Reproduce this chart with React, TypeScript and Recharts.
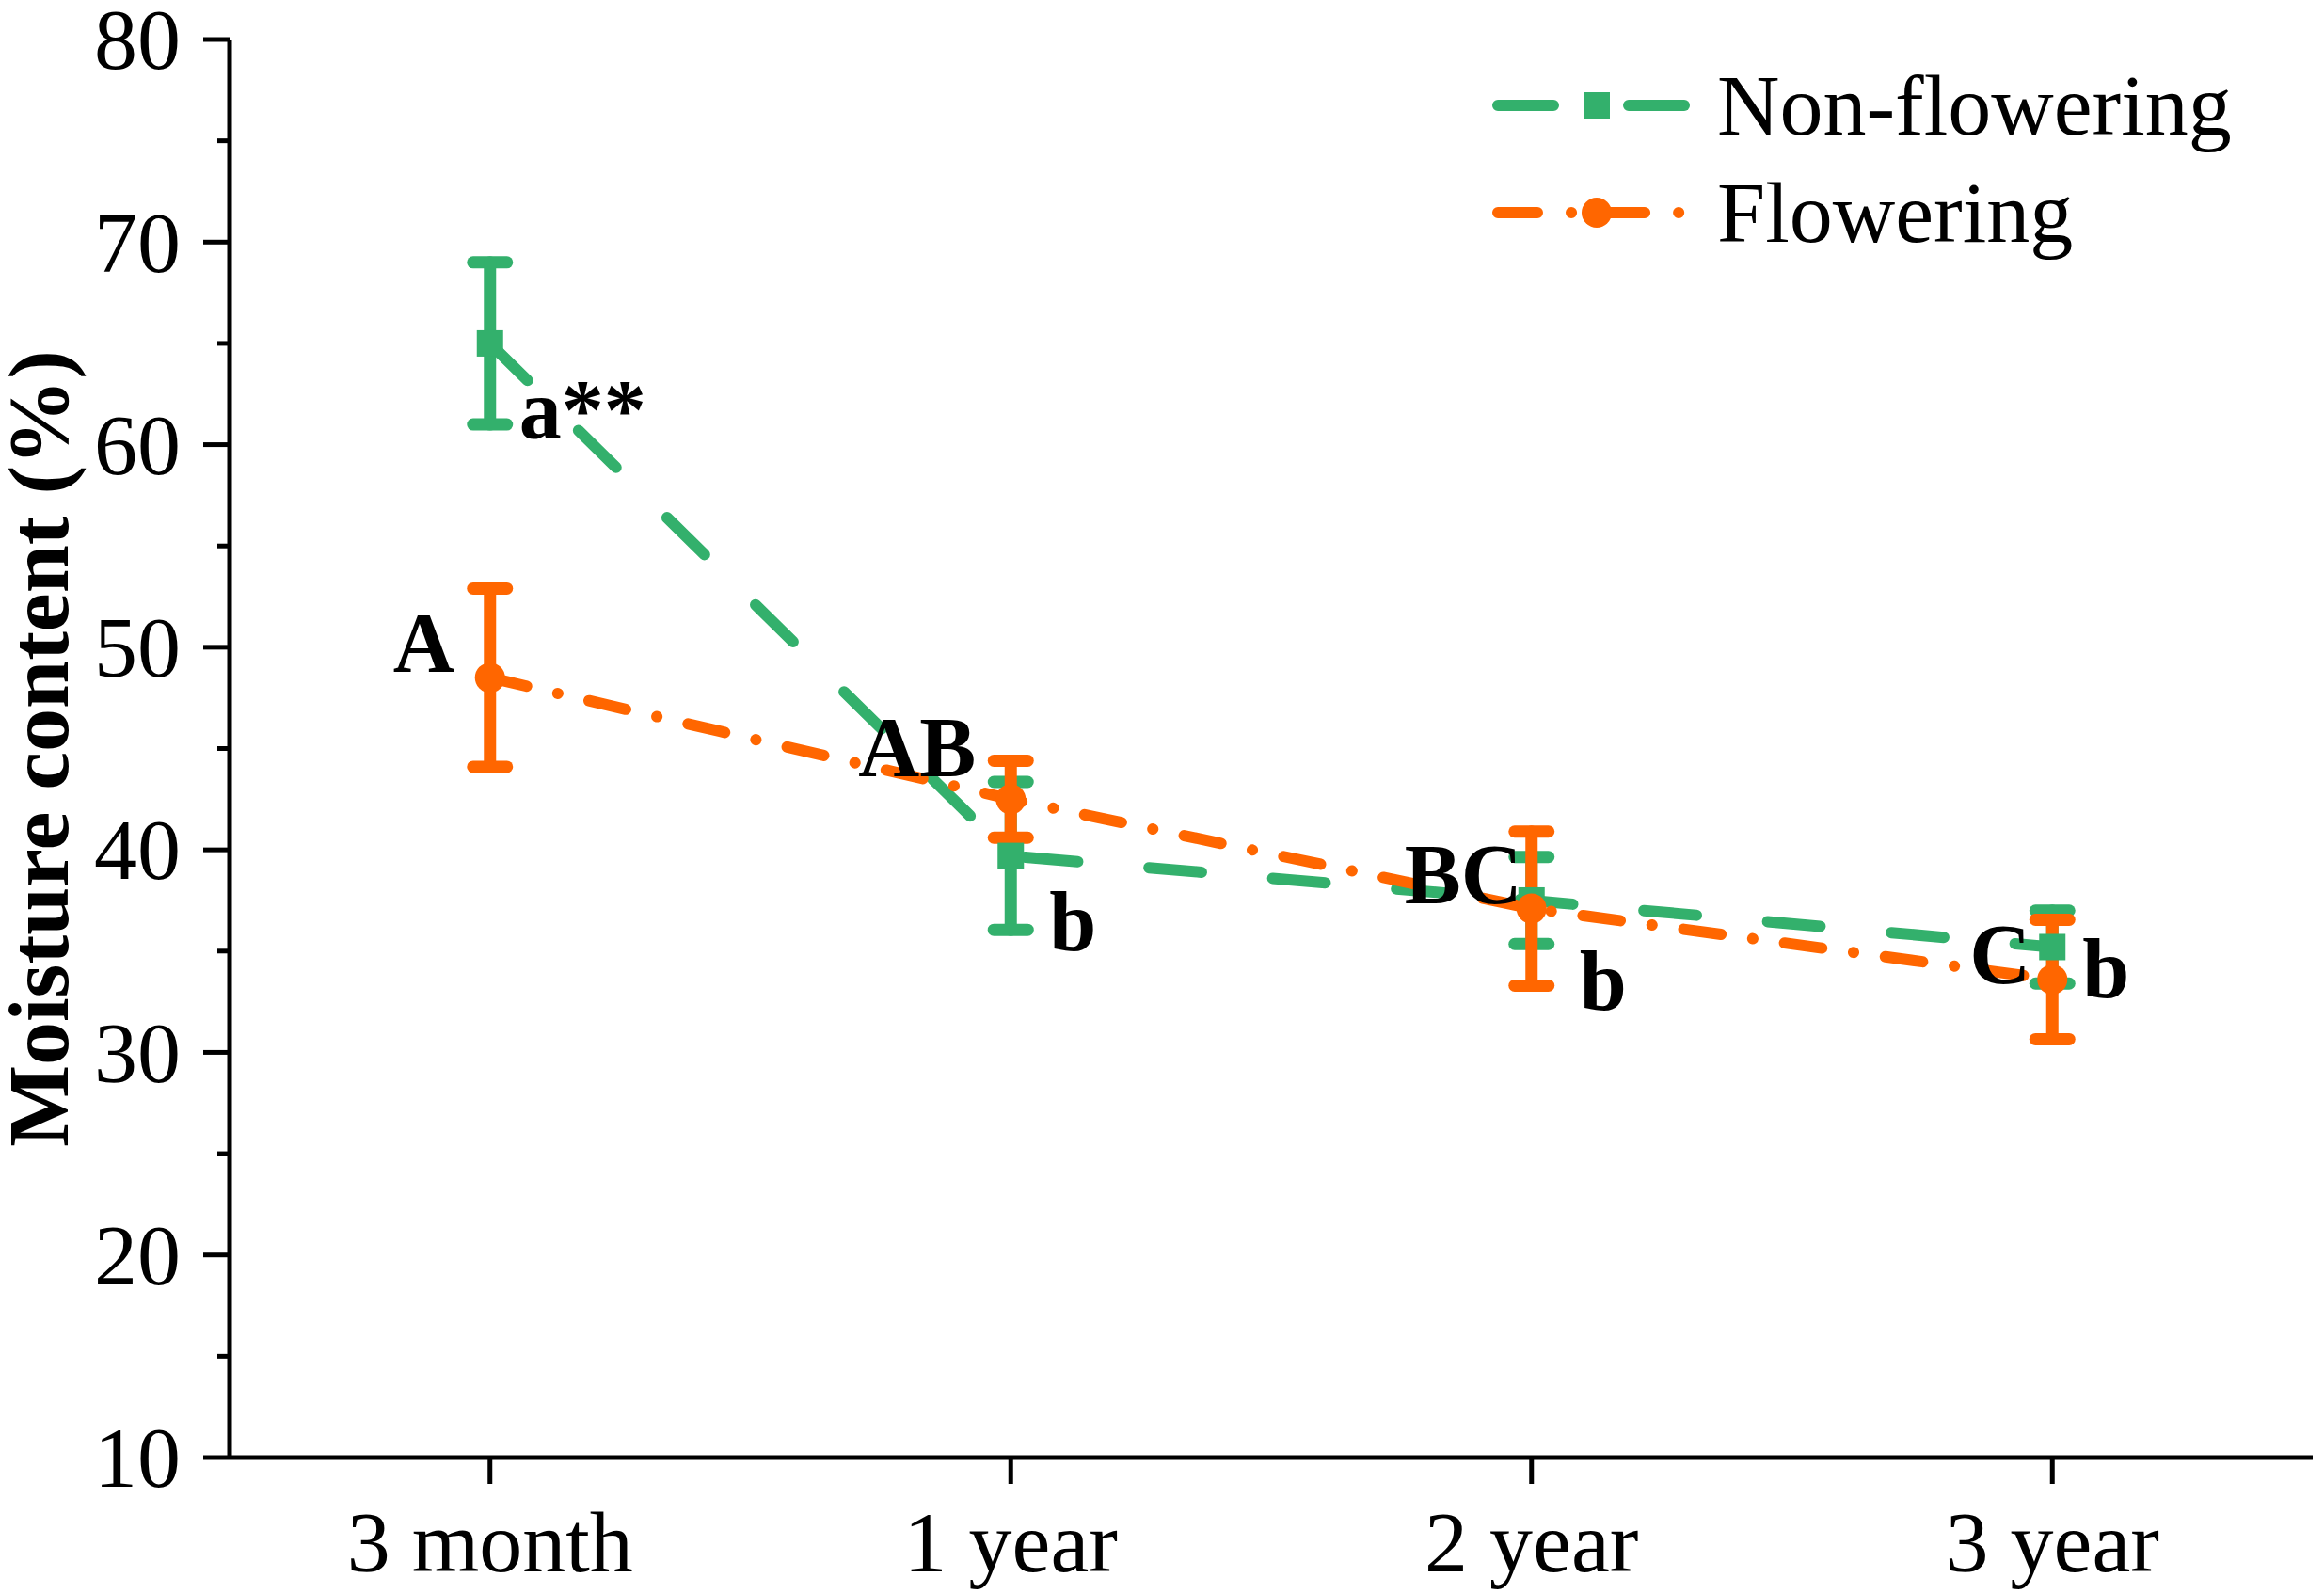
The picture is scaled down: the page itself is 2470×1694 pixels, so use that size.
import React from "react";
import {
  LineChart,
  Line,
  XAxis,
  YAxis,
  ErrorBar,
  LabelList,
  Legend,
} from "recharts";

const FONT = '"Liberation Serif", "Times New Roman", Times, serif';
const GREEN = "#33B06C";
const ORANGE = "#FF6600";

const categories = ["3 month", "1 year", "2 year", "3 year"];
const nonFlowering = [65.0, 39.7, 37.5, 35.2];
const nonFloweringErr = [4.0, 3.65, 2.15, 1.8];
const flowering = [48.5, 42.5, 37.1, 33.6];
const floweringErr = [4.4, 1.9, 3.8, 2.95];
const nonFloweringLetters = ["a**", "b", "b", "b"];
const floweringLetters = ["A", "AB", "BC", "C"];
const yTicks = [10, 15, 20, 25, 30, 35, 40, 45, 50, 55, 60, 65, 70, 75, 80];
const legendOrder = ["nf", "f"];

const data = categories.map((cat, i) => ({
  cat,
  nf: nonFlowering[i],
  nfErr: nonFloweringErr[i],
  nfLetter: nonFloweringLetters[i],
  f: flowering[i],
  fErr: floweringErr[i],
  fLetter: floweringLetters[i],
}));

// where the significance letters sit relative to each point
const nfLabelOffset = [
  { dx: 31, dy: 101 },
  { dx: 41, dy: 100 },
  { dx: 51, dy: 116 },
  { dx: 32, dy: 54 },
];
const fLabelOffset = [
  { dx: -38, dy: -6 },
  { dx: -37, dy: -24 },
  { dx: -10, dy: -6 },
  { dx: -23, dy: 4 },
];

const GREEN_DASH = "56 76";
const ORANGE_DASH = "40 34 0.1 34";

const YTick = (props: any) => {
  const { x, y, payload } = props;
  const major = payload.value % 10 === 0;
  const len = major ? 28 : 13;
  return (
    <g>
      <line x1={x - len} y1={y} x2={x} y2={y} stroke="#000" strokeWidth={5} />
      {major && (
        <text
          x={x - 52}
          y={y}
          dy="0.34em"
          textAnchor="end"
          fontSize={92}
          fontFamily={FONT}
          fill="#000"
        >
          {payload.value}
        </text>
      )}
    </g>
  );
};

const makeLetterLabel =
  (offsets: { dx: number; dy: number }[], anchor: "start" | "end") =>
  (props: any) => {
    const { x, y, value, index } = props;
    const o = offsets[index] || { dx: 0, dy: 0 };
    return (
      <text
        x={x + o.dx}
        y={y + o.dy}
        textAnchor={anchor}
        fontSize={90}
        fontWeight="bold"
        fontFamily={FONT}
        fill="#000"
      >
        {value}
      </text>
    );
  };

const SquareDot = (props: any) => {
  const { cx, cy, index } = props;
  return <rect key={`sq-${index}`} x={cx - 14} y={cy - 14} width={28} height={28} fill={GREEN} />;
};

const CircleDot = (props: any) => {
  const { cx, cy, index } = props;
  return <circle key={`ci-${index}`} cx={cx} cy={cy} r={16} fill={ORANGE} />;
};

const renderLegend = (props: any) => {
  const items = [...(props.payload || [])].sort(
    (a: any, b: any) => legendOrder.indexOf(a.dataKey) - legendOrder.indexOf(b.dataKey)
  );
  return (
    <svg width={900} height={230} style={{ overflow: "visible" }}>
      {items.map((entry: any, i: number) => {
        const isNf = entry.dataKey === "nf";
        const cy = 52 + i * 114;
        return (
          <g key={entry.value}>
            <line
              x1={6}
              y1={cy}
              x2={206}
              y2={cy}
              stroke={isNf ? GREEN : ORANGE}
              strokeWidth={12}
              strokeLinecap="round"
              strokeDasharray={isNf ? "59 80" : "42 36 0.1 36"}
            />
            {isNf ? (
              <rect x={97} y={cy - 14} width={28} height={28} fill={GREEN} />
            ) : (
              <circle cx={111} cy={cy} r={16} fill={ORANGE} />
            )}
            <text x={239} y={cy + 31} fontSize={92} fontFamily={FONT} fill="#000">
              {entry.value}
            </text>
          </g>
        );
      })}
    </svg>
  );
};

export default function App() {
  return (
    <div style={{ width: 2470, height: 1694, background: "#fff" }}>
      <style>{"body{margin:0}"}</style>
      <LineChart
        width={2470}
        height={1694}
        data={data}
        margin={{ top: 42, right: 12, bottom: 0, left: 0 }}
      >
        <XAxis
          dataKey="cat"
          scale="band"
          interval={0}
          height={145}
          tickSize={28}
          tickMargin={28}
          tickLine={{ stroke: "#000", strokeWidth: 5 }}
          axisLine={{ stroke: "#000", strokeWidth: 5 }}
          tick={{ fontSize: 92, fill: "#000", fontFamily: FONT }}
        />
        <YAxis
          width={244}
          domain={[10, 80]}
          ticks={yTicks}
          interval={0}
          tickSize={0}
          tickMargin={0}
          tickLine={false}
          axisLine={{ stroke: "#000", strokeWidth: 5 }}
          tick={<YTick />}
          label={{
            value: "Moisture content (%)",
            content: (p: any) => {
              const vb = p.viewBox || {};
              const cy = (vb.y || 42) + (vb.height || 1507) / 2;
              return (
                <text
                  transform={`translate(72, ${cy}) rotate(-90)`}
                  textAnchor="middle"
                  fontSize={92}
                  fontWeight="bold"
                  fontFamily={FONT}
                  fill="#000"
                >
                  Moisture content (%)
                </text>
              );
            },
          }}
        />
        <Legend
          layout="vertical"
          align="center"
          verticalAlign="middle"
          wrapperStyle={{ left: 1586, top: 60, width: 900, height: 230 }}
          content={renderLegend}
        />
        <Line
          dataKey="nf"
          name="Non-flowering"
          type="linear"
          stroke={GREEN}
          strokeWidth={12}
          strokeLinecap="round"
          strokeDasharray={GREEN_DASH}
          dot={SquareDot}
          activeDot={false}
          isAnimationActive={false}
        >
          <ErrorBar
            dataKey="nfErr"
            direction="y"
            width={18}
            stroke={GREEN}
            strokeWidth={13}
            strokeLinecap="round"
            isAnimationActive={false}
          />
          <LabelList dataKey="nfLetter" content={makeLetterLabel(nfLabelOffset, "start")} />
        </Line>
        <Line
          dataKey="f"
          name="Flowering"
          type="linear"
          stroke={ORANGE}
          strokeWidth={12}
          strokeLinecap="round"
          strokeDasharray={ORANGE_DASH}
          dot={CircleDot}
          activeDot={false}
          isAnimationActive={false}
        >
          <ErrorBar
            dataKey="fErr"
            direction="y"
            width={18}
            stroke={ORANGE}
            strokeWidth={13}
            strokeLinecap="round"
            isAnimationActive={false}
          />
          <LabelList dataKey="fLetter" content={makeLetterLabel(fLabelOffset, "end")} />
        </Line>
      </LineChart>
    </div>
  );
}
